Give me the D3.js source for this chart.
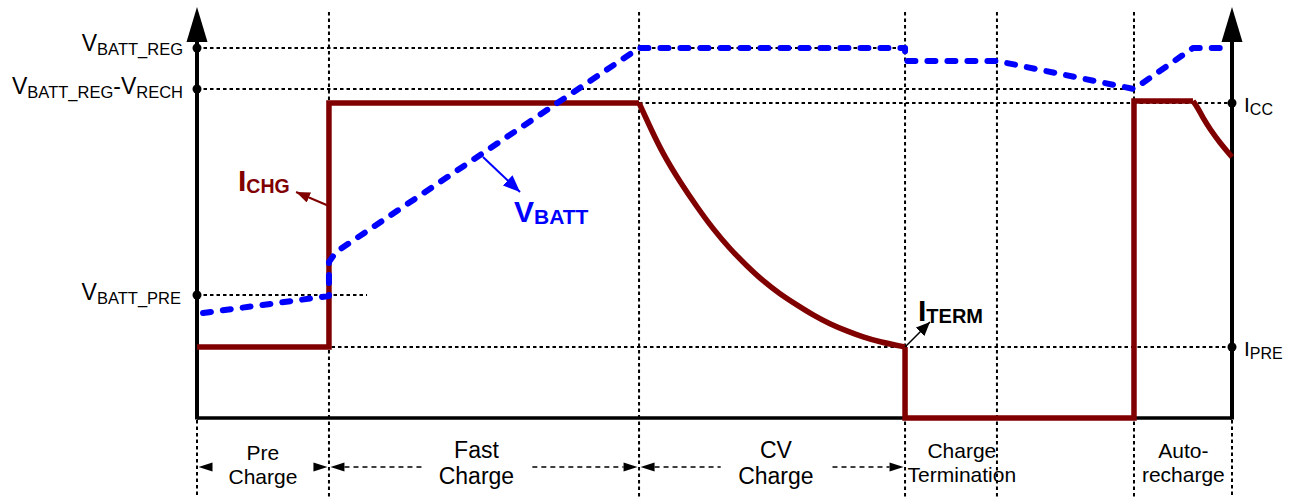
<!DOCTYPE html>
<html>
<head>
<meta charset="utf-8">
<script src="https://cdn.jsdelivr.net/npm/d3@7/dist/d3.min.js"></script>
<style>
  html, body { margin: 0; padding: 0; background: #fff; }
  svg { display: block; font-family: "Liberation Sans", Arial, sans-serif; }
</style>
</head>
<body>
<svg id="chart" width="1289" height="497"></svg>
<script>
// ---- Charge cycle profile (time in arbitrary units 0..100, level in % of VBATT_REG) ----

// phase boundaries on the time axis
const phaseStarts = [0, 12.75, 42.71, 68.41, 77.29, 90.53, 100];

// reference levels
const levelNames = ["VBATT_REG", "VBATT_REG-VRECH", "ICC", "VBATT_PRE", "IPRE"];
const levelValues = [100, 88.92, 85.14, 33.24, 19.19];

// charge current ICHG: step parts
const ichgStepT = [0, 12.75, 12.75, 42.71];
const ichgStepLevel = [19.19, 19.19, 85.14, 85.14];
// constant-voltage taper of the current
const ichgTaperT = [42.71, 43.77, 45.02, 46.67, 48.31, 49.86, 51.50, 53.14, 54.69, 56.33, 57.97, 59.52, 61.16, 62.80, 64.35, 65.99, 68.41];
const ichgTaperLevel = [85.14, 78.65, 71.35, 63.78, 57.03, 51.08, 45.68, 41.08, 37.03, 33.51, 30.54, 27.84, 25.41, 23.51, 21.89, 20.54, 19.19];
// termination and auto-recharge step
const ichgTermT = [68.41, 68.41, 90.53, 90.53, 96.23];
const ichgTermLevel = [19.19, 0, 0, 85.68, 85.68];
// start of the next taper
const ichgTailT = [96.23, 96.71, 97.20, 97.87, 98.84, 100];
const ichgTailLevel = [85.68, 83.78, 81.08, 78.11, 74.32, 70.54];

// battery voltage VBATT
const vbattT = [0.58, 12.75, 12.75, 13.43, 42.71, 68.41, 68.41, 77.29, 90.53, 96.23, 99.32];
const vbattLevel = [28.38, 32.97, 42.16, 44.86, 100, 100, 96.49, 96.49, 88.92, 100, 100];

// phase captions under the time axis
const phaseLabels = [["Pre", "Charge"], ["Fast", "Charge"], ["CV", "Charge"], ["Charge", "Termination"], ["Auto-", "recharge"]];
const phaseLabelT = [6.37, 27.0, 55.93, 73.9, 95.3];

const svg = d3.select("#chart");

const x = d3.scaleLinear().domain([0, 100]).range([197, 1232]);
const y = d3.scaleLinear().domain([0, 100]).range([418, 48]);

const RED = "#800000";
const BLUE = "#0000ff";
const DOT = "3.5 3";

const defs = svg.append("defs");
function marker(id, color, len, half) {
  defs.append("marker")
    .attr("id", id)
    .attr("markerUnits", "userSpaceOnUse")
    .attr("viewBox", `0 ${-half} ${len} ${2 * half}`)
    .attr("refX", len).attr("refY", 0)
    .attr("markerWidth", len).attr("markerHeight", 2 * half)
    .attr("orient", "auto")
    .append("path")
    .attr("d", `M0,${-half}L${len},0L0,${half}Z`)
    .attr("fill", color);
}
marker("ahRed", RED, 14, 5.5);
marker("ahBlue", BLUE, 17, 7);
marker("ahBlack", "#000", 14, 6);

// ---- dotted grid ----
const grid = svg.append("g").attr("stroke", "#000").attr("stroke-width", 2).attr("stroke-dasharray", DOT).attr("fill", "none");

// vertical phase separators
phaseStarts.slice(1, -1).forEach(t => {
  grid.append("line").attr("x1", x(t)).attr("x2", x(t)).attr("y1", 12).attr("y2", 497);
});
// axis extensions below the time axis
[phaseStarts[0], phaseStarts[phaseStarts.length - 1]].forEach(t => {
  grid.append("line").attr("x1", x(t)).attr("x2", x(t)).attr("y1", 420).attr("y2", 497);
});

// horizontal level lines: [level index, start t, end t]
const levelSpans = [[0, 0, 68.41], [1, 0, 90.53], [2, 42.71, 100], [3, 0, 16.43], [4, 11.11, 100]];
levelSpans.forEach(([i, t0, t1]) => {
  grid.append("line")
    .attr("x1", x(t0)).attr("x2", x(t1))
    .attr("y1", y(levelValues[i])).attr("y2", y(levelValues[i]));
});

// ---- axes ----
const axes = svg.append("g");
axes.append("line").attr("x1", x(0)).attr("x2", x(100)).attr("y1", y(0)).attr("y2", y(0))
  .attr("stroke", "#000").attr("stroke-width", 3.5);
[0, 100].forEach(t => {
  axes.append("line").attr("x1", x(t)).attr("x2", x(t)).attr("y1", y(0) + 1.5).attr("y2", 30)
    .attr("stroke", "#000").attr("stroke-width", 4);
  axes.append("path")
    .attr("d", `M${x(t)},7L${x(t) - 10.5},42L${x(t) + 10.5},42Z`)
    .attr("fill", "#000");
});

// ---- current trace ----
const lineL = d3.line().x(d => x(d[0])).y(d => y(d[1]));
const lineC = d3.line().x(d => x(d[0])).y(d => y(d[1])).curve(d3.curveBasis);
const zip = (a, b) => a.map((v, i) => [v, b[i]]);

const cur = svg.append("g").attr("fill", "none").attr("stroke", RED).attr("stroke-width", 5.5)
  .attr("stroke-linejoin", "miter").attr("stroke-linecap", "butt");
cur.append("path").attr("d", lineL(zip(ichgStepT, ichgStepLevel)));
cur.append("path").attr("d", lineC(zip(ichgTaperT, ichgTaperLevel)));
cur.append("path").attr("d", lineL(zip(ichgTermT, ichgTermLevel)));
cur.append("path").attr("d", lineC(zip(ichgTailT, ichgTailLevel)));

// ---- voltage trace ----
svg.append("path")
  .attr("d", lineL(zip(vbattT, vbattLevel)))
  .attr("fill", "none").attr("stroke", BLUE).attr("stroke-width", 6)
  .attr("stroke-linecap", "round").attr("stroke-linejoin", "round")
  .attr("stroke-dasharray", "8 12");

// ---- level markers and names ----
const dotsLeft = [0, 1, 3];
const dotsRight = [2, 4];
dotsLeft.forEach(i => svg.append("circle").attr("cx", x(0)).attr("cy", y(levelValues[i])).attr("r", 4.5));
dotsRight.forEach(i => svg.append("circle").attr("cx", x(100)).attr("cy", y(levelValues[i])).attr("r", 4.5));

function subLabel(parent, px, py, parts, anchor, bigSize, smallSize, shift, attrs) {
  const t = parent.append("text").attr("x", px).attr("y", py).attr("text-anchor", anchor);
  Object.entries(attrs || {}).forEach(([k, v]) => t.attr(k, v));
  let lvl = 0;
  parts.forEach(([txt, sub]) => {
    const target = sub ? shift : 0;
    t.append("tspan").attr("font-size", sub ? smallSize : bigSize).attr("dy", target - lvl).text(txt);
    lvl = target;
  });
  return t;
}

const labels = svg.append("g").attr("fill", "#000");
subLabel(labels, 183, y(levelValues[0]) + 3, [["V", 0], ["BATT_REG", 1]], "end", 23, 16.5, 4);
subLabel(labels, 183, y(levelValues[1]) + 5, [["V", 0], ["BATT_REG", 1], ["-V", 0], ["RECH", 1]], "end", 23, 16.5, 4);
subLabel(labels, 181, y(levelValues[3]) + 5, [["V", 0], ["BATT_PRE", 1]], "end", 23, 16.5, 4);
subLabel(labels, 1244, y(levelValues[2]) + 9, [["I", 0], ["CC", 1]], "start", 21, 16, 3);
subLabel(labels, 1244, y(levelValues[4]) + 9, [["I", 0], ["PRE", 1]], "start", 21, 16, 3);

// ---- trace call-outs ----
const callouts = [
  { from: [12.75, 57.3], to: [9.57, 61.08], color: RED, marker: "ahRed", w: 2, text: [["I", 0], ["CHG", 1]], at: [238, 191], sub: 19.5 },
  { from: [27.63, 70.54], to: [31.21, 61.08], color: BLUE, marker: "ahBlue", w: 2, text: [["V", 0], ["BATT", 1]], at: [514, 222], sub: 21 },
  { from: [68.41, 19.19], to: [70.82, 25.95], color: "#000", marker: "ahBlack", w: 1.5, text: [["I", 0], ["TERM", 1]], at: [918, 321], sub: 20 }
];
callouts.forEach(c => {
  svg.append("line")
    .attr("x1", x(c.from[0])).attr("y1", y(c.from[1]))
    .attr("x2", x(c.to[0])).attr("y2", y(c.to[1]))
    .attr("stroke", c.color).attr("stroke-width", c.w)
    .attr("marker-end", `url(#${c.marker})`);
  subLabel(svg, c.at[0], c.at[1], c.text, "start", 30, c.sub, 2, { "font-weight": "bold", fill: c.color });
});

// ---- phase captions and span arrows ----
const cap = svg.append("g").attr("fill", "#000").attr("text-anchor", "middle");
const capSizes = [21, 23, 23, 21, 21];
const capBase = [[460, 484], [458, 484], [458, 484], [458, 482], [458, 482]];
phaseLabels.forEach((lines, i) => {
  const t = cap.append("text").attr("font-size", capSizes[i]);
  lines.forEach((s, j) => {
    t.append("tspan").attr("x", x(phaseLabelT[i])).attr("y", capBase[i][j]).text(s);
  });
});

// span arrows: [start t, end t, dashed gap start t, dashed gap end t]
const spanArrows = [[0, 12.75, 1.5, 11.3], [12.75, 42.71, 21.8, 32.4], [42.71, 68.41, 50.6, 61.4]];
const AY = 467;
const arrows = svg.append("g");
spanArrows.forEach(([t0, t1, g0, g1]) => {
  const a = x(t0) + 1.5, b = x(t1) - 1.5;
  const head = (tip, dir) => arrows.append("path")
    .attr("d", `M${tip},${AY}L${tip + dir * 14},${AY - 4.5}L${tip + dir * 14},${AY + 4.5}Z`).attr("fill", "#000");
  head(a, 1);
  head(b, -1);
  if (x(g0) > a + 14) {
    arrows.append("line").attr("x1", a + 14).attr("x2", x(g0)).attr("y1", AY).attr("y2", AY)
      .attr("stroke", "#000").attr("stroke-width", 1.3).attr("stroke-dasharray", "5 4");
  }
  if (x(g1) < b - 14) {
    arrows.append("line").attr("x1", x(g1)).attr("x2", b - 14).attr("y1", AY).attr("y2", AY)
      .attr("stroke", "#000").attr("stroke-width", 1.3).attr("stroke-dasharray", "5 4");
  }
});
</script>
</body>
</html>
